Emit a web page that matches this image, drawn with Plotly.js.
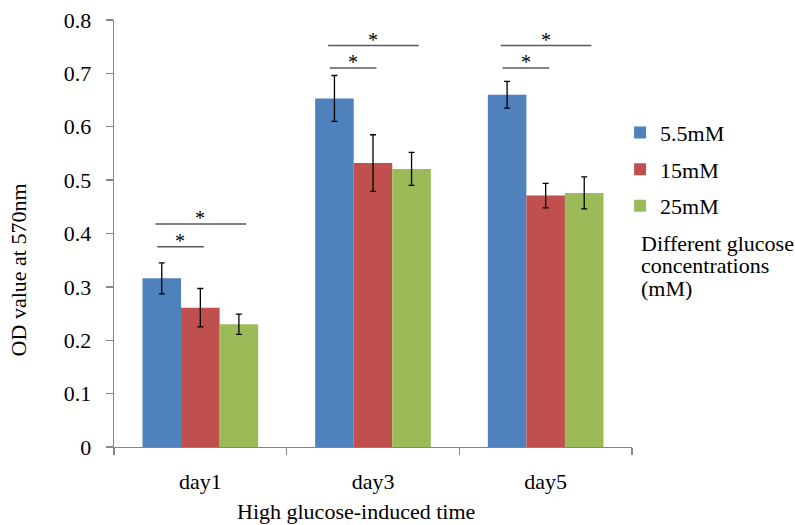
<!DOCTYPE html>
<html>
<head>
<meta charset="utf-8">
<script src="https://cdn.plot.ly/plotly-3.0.1.min.js"></script>
<style>html,body{margin:0;padding:0;background:#fff;}</style>
</head>
<body>
<div id="chart" style="width:795px;height:525px;"></div>
<script>
// ---- data ----
var categories = ['day1', 'day3', 'day5'];
var concentrations = ['5.5mM', '15mM', '25mM'];
var od_5_5mM = [0.316, 0.653, 0.660];
var od_15mM = [0.261, 0.532, 0.471];
var od_25mM = [0.230, 0.521, 0.476];
var err_5_5mM = [0.029, 0.043, 0.025];
var err_15mM = [0.036, 0.053, 0.023];
var err_25mM = [0.019, 0.031, 0.030];
var sigLongY = [0.418, 0.752, 0.752];   // 5.5mM vs 25mM bracket
var sigShortY = [0.375, 0.710, 0.710];  // 5.5mM vs 15mM bracket
var sigLabel = '*';
var xTitle = 'High glucose-induced time';
var yTitle = 'OD value at 570nm';
var noteLines = ['Different glucose', 'concentrations', '(mM)'];

// ---- styles ----
var FONT = "'Liberation Serif', 'Times New Roman', serif";
var colors = ['#4F81BD', '#C0504D', '#9BBB59'];
var values = [od_5_5mM, od_15mM, od_25mM];
var errors = [err_5_5mM, err_15mM, err_25mM];

var traces = concentrations.map(function (name, i) {
  return {
    type: 'bar',
    name: name,
    x: categories,
    y: values[i],
    marker: {color: colors[i], line: {width: 0}},
    error_y: {type: 'data', array: errors[i], visible: true, color: '#000000', thickness: 1.3, width: 3},
    legendgroup: 'g' + i
  };
});

var shapes = [];
var annotations = [];
categories.forEach(function (c, i) {
  shapes.push({type: 'line', xref: 'x', yref: 'y', x0: i - 0.26, x1: i + 0.265, y0: sigLongY[i], y1: sigLongY[i],
    line: {color: '#595959', width: 1.5}});
  shapes.push({type: 'line', xref: 'x', yref: 'y', x0: i - 0.25, x1: i + 0.02, y0: sigShortY[i], y1: sigShortY[i],
    line: {color: '#595959', width: 1.5}});
  annotations.push({xref: 'x', yref: 'y', x: i + 0.0, y: sigLongY[i], text: sigLabel, showarrow: false,
    xanchor: 'center', yanchor: 'middle', yshift: 6, font: {family: FONT, size: 20, color: '#000'}});
  annotations.push({xref: 'x', yref: 'y', x: i - 0.115, y: sigShortY[i], text: sigLabel, showarrow: false,
    xanchor: 'center', yanchor: 'middle', yshift: 6, font: {family: FONT, size: 20, color: '#000'}});
});

annotations.push({xref: 'paper', yref: 'paper', x: 0.468, y: -0.15, text: xTitle, showarrow: false,
  xanchor: 'center', yanchor: 'middle', font: {family: FONT, size: 22, color: '#000'}});
annotations.push({xref: 'paper', yref: 'paper', x: -0.185, y: 0.414, text: yTitle, showarrow: false, textangle: -90,
  xanchor: 'center', yanchor: 'middle', font: {family: FONT, size: 22, color: '#000'}});
var noteY = [0.4777, 0.4245, 0.3722];
noteLines.forEach(function (t, k) {
  annotations.push({xref: 'paper', yref: 'paper', x: 1.0135, y: noteY[k], text: t, showarrow: false,
    xanchor: 'left', yanchor: 'middle', font: {family: FONT, size: 22, color: '#000'}});
});

var layout = {
  width: 795, height: 525,
  margin: {l: 114, r: 163, t: 20, b: 78, pad: 0},
  paper_bgcolor: '#ffffff', plot_bgcolor: '#ffffff',
  font: {family: FONT, size: 22, color: '#000'},
  barmode: 'group', bargap: 0.33, bargroupgap: 0,
  showlegend: true,
  legend: {x: 0.977, xanchor: 'left', y: 0.785, yanchor: 'top', font: {family: FONT, size: 22, color: '#000'},
    traceorder: 'grouped', tracegroupgap: 5, bgcolor: 'rgba(0,0,0,0)', itemwidth: 30},
  xaxis: {type: 'category', showline: true, linecolor: '#868686', linewidth: 1.3, ticks: 'outside', tickson: 'boundaries',
    ticklen: 7, tickcolor: '#868686', tickwidth: 1.3, showgrid: false, zeroline: false, ticklabelstandoff: 14,
    tickfont: {family: FONT, size: 22, color: '#000'}},
  yaxis: {range: [0, 0.8], dtick: 0.1, tick0: 0, showline: true, linecolor: '#868686', linewidth: 1.3, ticks: 'outside',
    ticklen: 7, tickcolor: '#868686', tickwidth: 1.3, showgrid: false, zeroline: false, ticklabelstandoff: 10,
    tickfont: {family: FONT, size: 22, color: '#000'}},
  shapes: shapes,
  annotations: annotations
};

Plotly.newPlot('chart', traces, layout, {displayModeBar: false, staticPlot: true});
</script>
</body>
</html>
